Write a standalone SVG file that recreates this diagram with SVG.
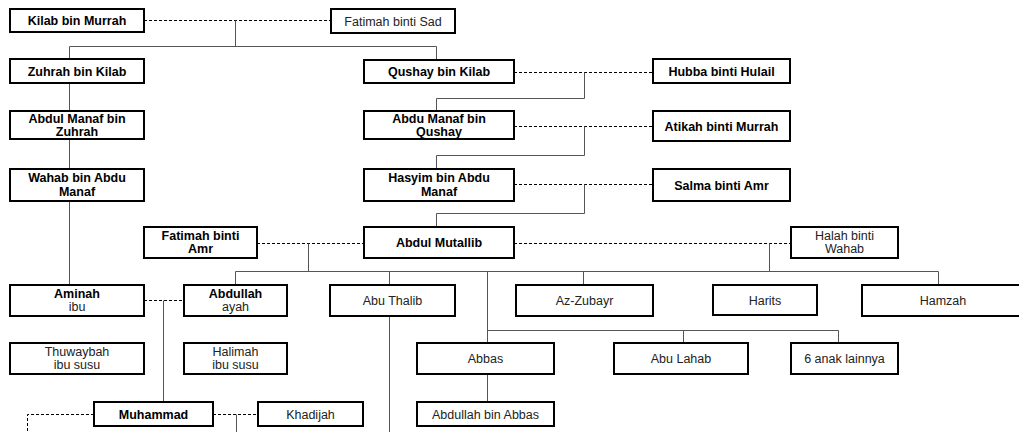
<svg xmlns="http://www.w3.org/2000/svg" width="1019" height="432" viewBox="0 0 1019 432">
<style>
.box{fill:#fff;stroke:#000;stroke-width:2}
.t{font-family:"Liberation Sans",Arial,sans-serif;font-size:12.5px;text-anchor:middle;fill:#000}
.b{font-weight:bold}
.n{fill:#222}
.sol{fill:none;stroke:#555;stroke-width:1}
.dash{fill:none;stroke:#000;stroke-width:1;stroke-dasharray:3,2}
</style>
<rect width="1019" height="432" fill="#fff"/>
<g id="connectors">
<path class="dash" d="M144 20.5H331"/>
<path class="sol" d="M235.5 20.5V46.5M69.5 46.5H436.5M69.5 46.5V59M436.5 46.5V60"/>
<path class="sol" d="M69.5 83V111M69.5 139V169M69.5 201V285"/>
<path class="dash" d="M514 72.5H653"/>
<path class="sol" d="M584.5 72.5V98.5H436.5V111"/>
<path class="dash" d="M514 126.5H653"/>
<path class="sol" d="M584.5 126.5V155.5H436.5V169"/>
<path class="dash" d="M514 184.5H653"/>
<path class="sol" d="M584.5 184.5V213.5H436.5V227"/>
<path class="dash" d="M257 243.5H364M514 243.5H791"/>
<path class="sol" d="M308.5 243.5V271.5M769.5 243.5V271.5M235.5 271.5H938.5"/>
<path class="sol" d="M235.5 271.5V285M389.5 271.5V285M487.5 271.5V343M583.5 271.5V285M938.5 271.5V285"/>
<path class="sol" d="M487.5 330.5H838.5M683.5 330.5V343M838.5 330.5V343M487.5 374V402"/>
<path class="dash" d="M144 300.5H184"/>
<path class="sol" d="M163.5 300.5V402"/>
<path class="sol" d="M389.5 316V432"/>
<path class="dash" d="M94 414.5H27.5V432M213 414.5H258"/>
<path class="sol" d="M236.5 414.5V432"/>
</g>
<g id="kilab"><rect class="box" x="10" y="9" width="134" height="23"/><text class="t b" x="77" y="25">Kilab bin Murrah</text></g>
<g id="fatimah-sad"><rect class="box" x="331" y="9" width="124" height="24"/><text class="t n" x="393" y="25.5">Fatimah binti Sad</text></g>
<g id="zuhrah"><rect class="box" x="10" y="59" width="134" height="24"/><text class="t b" x="77" y="75.5">Zuhrah bin Kilab</text></g>
<g id="qushay"><rect class="box" x="364" y="60" width="150" height="23"/><text class="t b" x="439" y="76">Qushay bin Kilab</text></g>
<g id="hubba"><rect class="box" x="653" y="59" width="137" height="24"/><text class="t b" x="721.5" y="75.5">Hubba binti Hulail</text></g>
<g id="abdul-manaf-zuhrah"><rect class="box" x="10" y="111" width="134" height="28"/><text class="t b" x="77" y="122.5">Abdul Manaf bin</text><text class="t b" x="77" y="136">Zuhrah</text></g>
<g id="abdu-manaf-qushay"><rect class="box" x="364" y="111" width="150" height="28"/><text class="t b" x="439" y="122.5">Abdu Manaf bin</text><text class="t b" x="439" y="136">Qushay</text></g>
<g id="atikah"><rect class="box" x="653" y="111" width="137" height="30"/><text class="t b" x="721.5" y="130.5">Atikah binti Murrah</text></g>
<g id="wahab"><rect class="box" x="10" y="169" width="134" height="32"/><text class="t b" x="77" y="182">Wahab bin Abdu</text><text class="t b" x="77" y="195.5">Manaf</text></g>
<g id="hasyim"><rect class="box" x="364" y="169" width="150" height="32"/><text class="t b" x="439" y="182">Hasyim bin Abdu</text><text class="t b" x="439" y="195.5">Manaf</text></g>
<g id="salma"><rect class="box" x="653" y="169" width="137" height="32"/><text class="t b" x="721.5" y="189.5">Salma binti Amr</text></g>
<g id="fatimah-amr"><rect class="box" x="144" y="227" width="113" height="31"/><text class="t b" x="200.5" y="239.5">Fatimah binti</text><text class="t b" x="200.5" y="253">Amr</text></g>
<g id="abdul-mutallib"><rect class="box" x="364" y="227" width="150" height="31"/><text class="t b" x="439" y="247">Abdul Mutallib</text></g>
<g id="halah"><rect class="box" x="791" y="227" width="107" height="31"/><text class="t n" x="844.5" y="239.5">Halah binti</text><text class="t n" x="844.5" y="253">Wahab</text></g>
<g id="aminah"><rect class="box" x="10" y="285" width="134" height="31"/><text class="t b" x="77" y="297.5">Aminah</text><text class="t n" x="77" y="311">ibu</text></g>
<g id="abdullah"><rect class="box" x="184" y="285" width="103" height="31"/><text class="t b" x="235.5" y="297.5">Abdullah</text><text class="t n" x="235.5" y="311">ayah</text></g>
<g id="abu-thalib"><rect class="box" x="330" y="285" width="125" height="31"/><text class="t n" x="392.5" y="305">Abu Thalib</text></g>
<g id="az-zubayr"><rect class="box" x="516" y="285" width="137" height="31"/><text class="t n" x="584.5" y="305">Az-Zubayr</text></g>
<g id="harits"><rect class="box" x="713" y="285" width="104" height="30"/><text class="t n" x="765" y="304.5">Harits</text></g>
<g id="hamzah"><rect class="box" x="862" y="285" width="162" height="31"/><text class="t n" x="943" y="305">Hamzah</text></g>
<g id="thuwaybah"><rect class="box" x="10" y="343" width="134" height="31"/><text class="t n" x="77" y="355.5">Thuwaybah</text><text class="t n" x="77" y="369">ibu susu</text></g>
<g id="halimah"><rect class="box" x="184" y="343" width="103" height="31"/><text class="t n" x="235.5" y="355.5">Halimah</text><text class="t n" x="235.5" y="369">ibu susu</text></g>
<g id="abbas"><rect class="box" x="417" y="343" width="137" height="31"/><text class="t n" x="485.5" y="363">Abbas</text></g>
<g id="abu-lahab"><rect class="box" x="614" y="343" width="134" height="31"/><text class="t n" x="681" y="363">Abu Lahab</text></g>
<g id="anak-lainnya"><rect class="box" x="791" y="343" width="107" height="31"/><text class="t n" x="844.5" y="363">6 anak lainnya</text></g>
<g id="muhammad"><rect class="box" x="94" y="402" width="119" height="24"/><text class="t b" x="153.5" y="418.5">Muhammad</text></g>
<g id="khadijah"><rect class="box" x="258" y="402" width="105" height="24"/><text class="t n" x="310.5" y="418.5">Khadijah</text></g>
<g id="abdullah-bin-abbas"><rect class="box" x="417" y="402" width="137" height="24"/><text class="t n" x="485.5" y="418.5">Abdullah bin Abbas</text></g>
</svg>
